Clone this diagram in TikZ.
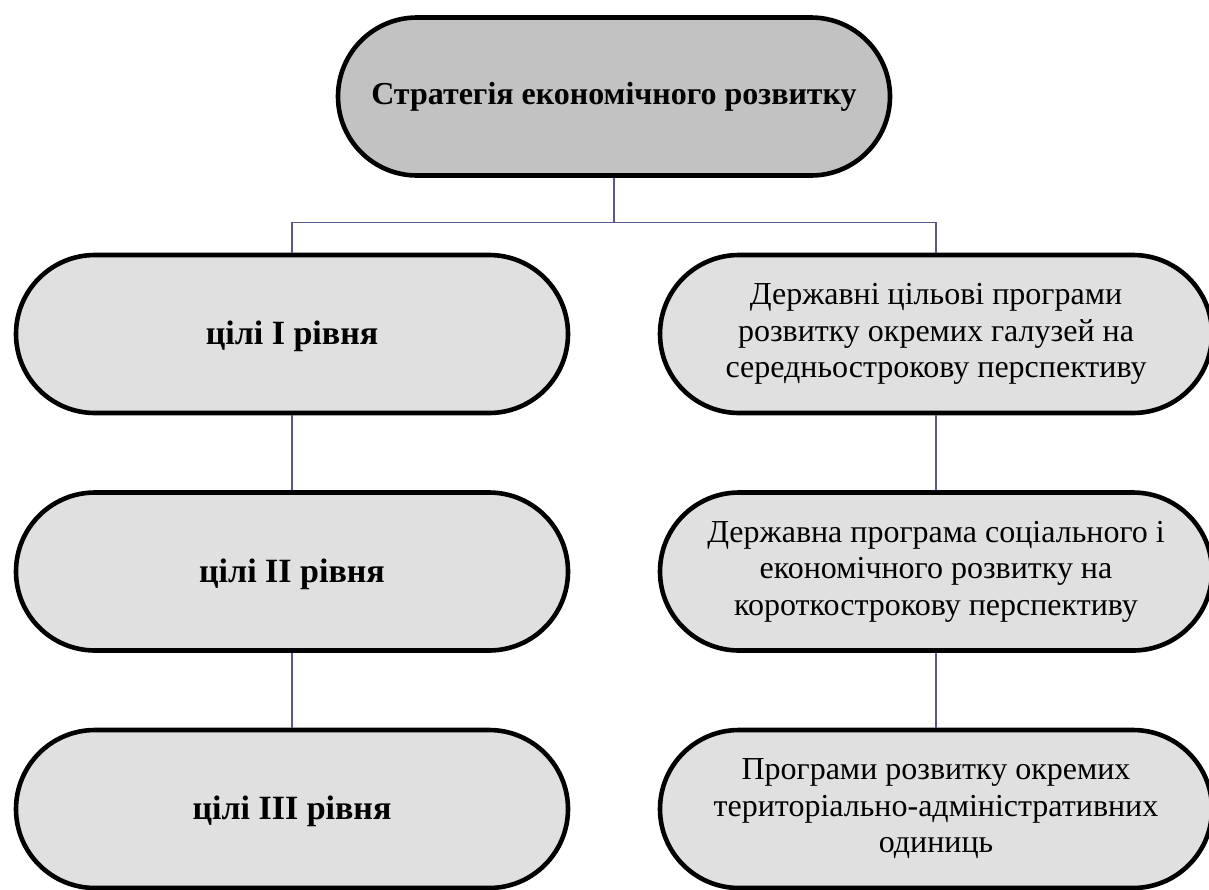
\documentclass[tikz,border=0pt]{standalone}
\usepackage{fontspec}
\setmainfont{Liberation Serif}
\usetikzlibrary{positioning}
\definecolor{linkblue}{RGB}{88,88,145}
\tikzset{
    node distance=118.75pt, % vertical spacing between the rows
    every node/.style={font=\fontsize{16}{18.3}\selectfont},
    block/.style={rectangle, rounded corners=39.5pt, draw=black, line width=2.3pt, minimum width=276pt, minimum height=79pt, align=center, fill=gray!24}, % sets the look of every box
    goal/.style={block, font=\fontsize{17}{19}\selectfont\bfseries, text height=14.5pt, text depth=4pt}, % left column
    top block/.style={block, fill=gray!48, font=\fontsize{16}{18.3}\selectfont\bfseries}, % the darker box at the top
    link/.style={draw=linkblue, line width=0.6pt},
}

\begin{document}
\begin{tikzpicture}
        \useasboundingbox (0,0) rectangle (604.5pt,-444.5pt);

        \node[top block] (s0) at (307pt,-48.25pt) {Стратегія економічного розвитку};
        \node[goal, below of=s0, xshift=-161pt] (s1) {цілі I рівня};
        \node[goal, below of=s1] (s2) {цілі II рівня};
        \node[goal, below of=s2] (s3) {цілі III рівня};
        \node[block, below of=s0, xshift=161pt] (s4) {Державні цільові програми\\ розвитку окремих галузей на\\ середньострокову перспективу};
        \node[block, below of=s4] (s5) {Державна програма соціального і\\ економічного розвитку на\\ короткострокову перспективу};
        \node[block, below of=s5] (s6) {Програми розвитку окремих\\ територіально-адміністративних\\ одиниць};

        \draw[link] (s1.north) -- ++(0,15pt) -| (s0.south);
        \draw[link] (s4.north) -- ++(0,15pt) -| (s0.south);
        \draw[link] (s1) -- (s2);
        \draw[link] (s2) -- (s3);
        \draw[link] (s4) -- (s5);
        \draw[link] (s5) -- (s6);

    \end{tikzpicture}
\end{document}
